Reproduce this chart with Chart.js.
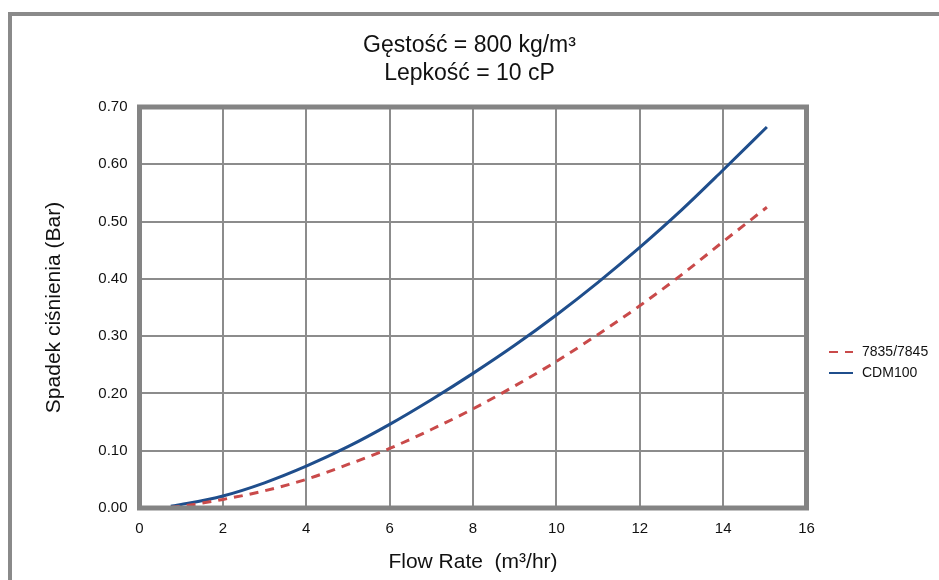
<!DOCTYPE html>
<html>
<head>
<meta charset="utf-8">
<script src="https://cdn.jsdelivr.net/npm/chart.js@4/dist/chart.umd.min.js"></script>
<style>
html,body{margin:0;padding:0;background:#fff;}
#wrap{width:939px;height:580px;position:relative;}
</style>
</head>
<body>
<div id="wrap"><canvas id="c" width="939" height="580"></canvas></div>
<script>
const titleLines = ['Gęstość = 800 kg/m³', 'Lepkość = 10 cP'];
const xAxisTitle = 'Flow Rate  (m³/hr)';
const yAxisTitle = 'Spadek ciśnienia (Bar)';
const seriesNames = ['7835/7845', 'CDM100'];
const flowRates = [0.75, 1, 2, 3, 4, 5, 6, 7, 8, 9, 10, 11, 12, 13, 14, 15.05];
const drop7835 = [0.001, 0.003, 0.015, 0.030, 0.050, 0.076, 0.104, 0.137, 0.173, 0.213, 0.256, 0.303, 0.353, 0.407, 0.465, 0.525];
const dropCDM100 = [0.003, 0.006, 0.021, 0.044, 0.073, 0.107, 0.146, 0.189, 0.235, 0.284, 0.337, 0.394, 0.455, 0.520, 0.590, 0.665];
const xTicks = [0, 2, 4, 6, 8, 10, 12, 14, 16];
const yTicks = [0, 0.1, 0.2, 0.3, 0.4, 0.5, 0.6, 0.7];

const FONT = "'Liberation Sans', Arial, sans-serif";
const toPts = (xs, ys) => xs.map((x, i) => ({x: x, y: ys[i]}));

const framePlugin = {
  id: 'frames',
  beforeDraw(chart) {
    const ctx = chart.ctx;
    ctx.save();
    ctx.fillStyle = '#8a8a8a';
    ctx.fillRect(8, 12, 4, 568);
    ctx.fillRect(8, 12, 931, 4);
    ctx.restore();
  },
  afterDatasetsDraw(chart) {
    const a = chart.chartArea;
    const ctx = chart.ctx;
    ctx.save();
    ctx.strokeStyle = '#848484';
    ctx.lineWidth = 5;
    ctx.strokeRect(a.left, a.top, a.right - a.left, a.bottom - a.top);
    ctx.restore();
    // legend
    const ds = chart.data.datasets;
    const lx = 829, ly = [352, 373];
    ctx.save();
    ctx.font = '14px ' + FONT;
    ctx.textBaseline = 'middle';
    ds.forEach((d, i) => {
      ctx.strokeStyle = d.borderColor;
      ctx.lineWidth = 2;
      ctx.setLineDash(d.borderDash || []);
      ctx.beginPath();
      ctx.moveTo(lx, ly[i]);
      ctx.lineTo(lx + 24, ly[i]);
      ctx.stroke();
      ctx.setLineDash([]);
      ctx.fillStyle = '#111';
      ctx.fillText(d.label, lx + 33, ly[i]);
    });
    ctx.restore();
  }
};

new Chart(document.getElementById('c'), {
  type: 'line',
  data: {
    datasets: [
      {label: seriesNames[0], data: toPts(flowRates, drop7835), borderColor: '#c94a4a', borderWidth: 3, borderDash: [9, 7], pointRadius: 0, cubicInterpolationMode: 'monotone', fill: false},
      {label: seriesNames[1], data: toPts(flowRates, dropCDM100), borderColor: '#1f4e8c', borderWidth: 3, pointRadius: 0, cubicInterpolationMode: 'monotone', fill: false}
    ]
  },
  options: {
    responsive: false,
    animation: false,
    layout: {padding: {left: 0, right: 0, top: 0, bottom: 0}},
    plugins: {
      legend: {display: false},
      tooltip: {enabled: false},
      title: {display: true, text: titleLines, color: '#111', font: {family: FONT, size: 23, weight: 'normal', lineHeight: 28 / 23}, padding: {top: 32, bottom: 19}}
    },
    scales: {
      x: {
        type: 'linear', min: 0, max: 16,
        afterBuildTicks: s => { s.ticks = xTicks.map(v => ({value: v})); },
        afterFit: s => { s.height = 72; },
        ticks: {color: '#111', font: {family: FONT, size: 15}, padding: 12},
        grid: {color: '#8c8c8c', lineWidth: 2, drawTicks: false},
        border: {display: false},
        title: {display: true, text: xAxisTitle, color: '#111', font: {family: FONT, size: 21}, padding: {top: 10, bottom: 5}}
      },
      y: {
        type: 'linear', min: 0, max: 0.7,
        afterBuildTicks: s => { s.ticks = yTicks.map(v => ({value: v})); },
        afterFit: s => { s.width = 139.5; },
        ticks: {color: '#111', font: {family: FONT, size: 15}, padding: 12, callback: v => Number(v).toFixed(2)},
        grid: {color: '#8c8c8c', lineWidth: 2, drawTicks: false},
        border: {display: false},
        title: {display: true, text: yAxisTitle, color: '#111', font: {family: FONT, size: 21}, padding: {top: 42, bottom: 0}}
      },
      yRight: {
        type: 'linear', position: 'right', min: 0, max: 0.7, display: true,
        afterFit: s => { s.width = 132.5; },
        ticks: {display: false},
        grid: {display: false, drawTicks: false},
        border: {display: false}
      }
    }
  },
  plugins: [framePlugin]
});
</script>
</body>
</html>
